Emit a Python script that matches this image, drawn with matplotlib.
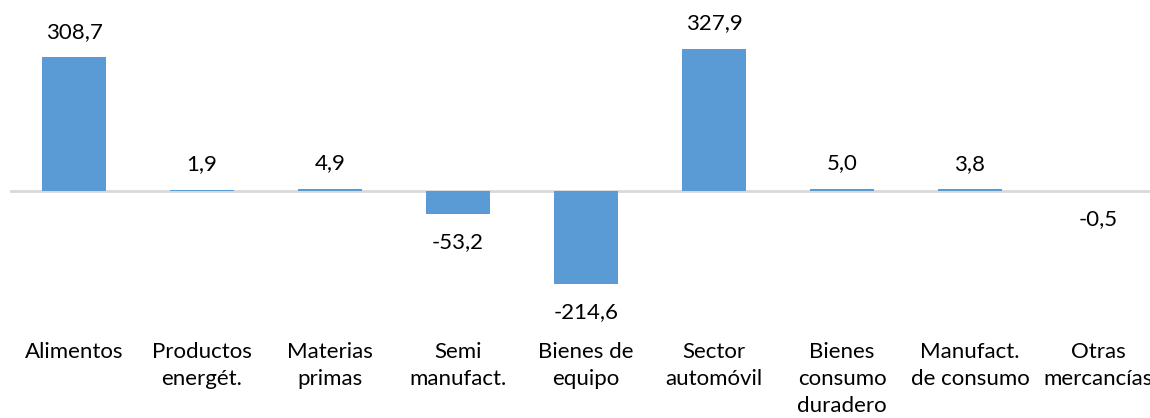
import matplotlib
matplotlib.use("Agg")
import matplotlib.pyplot as plt
import matplotlib.transforms as mtransforms

plt.rcParams['font.family'] = ['Lato', 'DejaVu Sans']

# datos
categorias = ["Alimentos", "Productos\nenergét.", "Materias\nprimas", "Semi\nmanufact.",
              "Bienes de\nequipo", "Sector\nautomóvil", "Bienes\nconsumo\nduradero",
              "Manufact.\nde consumo", "Otras\nmercancías"]
valores = [308.7, 1.9, 4.9, -53.2, -214.6, 327.9, 5.0, 3.8, -0.5]

W, H = 1150, 418
fig = plt.figure(figsize=(W / 100, H / 100), dpi=100)
# zona de trazado (en pixeles: x 10..1162, y 18..299 desde arriba)
ax = fig.add_axes([10 / W, (H - 299.3) / H, 1152 / W, 281.5 / H])

x = list(range(len(valores)))
ax.axhline(0, color="#D9D9D9", lw=2, zorder=1)
ax.bar(x, valores, width=0.5, color="#5B9BD5", zorder=2)

ax.set_xlim(-0.5, 8.5)
ax.set_ylim(-250, 400)
ax.axis("off")

# etiquetas de valor
for xi, v in zip(x, valores):
    txt = f"{v:.1f}".replace(".", ",")
    off = 18.5 if v >= 0 else -20
    ax.annotate(txt, (xi, v), xytext=(0, off), textcoords="offset points",
                ha="center", va="center", fontsize=16, color="#000000")

# etiquetas de categoria
trans = mtransforms.blended_transform_factory(ax.transData, fig.transFigure)
for xi, c in zip(x, categorias):
    ax.text(xi, (H - 342) / H, c, transform=trans, ha="center", va="top",
            fontsize=16, color="#000000", linespacing=1.45)

fig.savefig("out.png", dpi=100)
